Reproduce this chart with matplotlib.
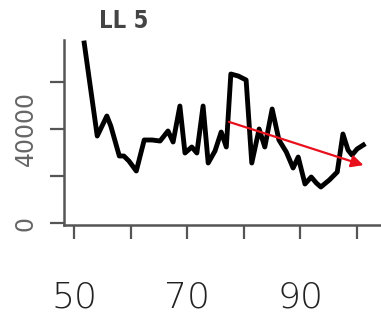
import numpy as np
import matplotlib
matplotlib.use("Agg")
import matplotlib.pyplot as plt

plt.rcParams['font.family'] = ['DejaVu Sans']

# series
years = [51.8, 54.1, 55.8, 56.5, 58.0, 58.8, 59.7, 61.0, 62.4, 63.8, 65.2, 66.6,
         67.5, 68.7, 69.6, 70.8, 71.7, 72.8, 73.7, 74.9, 76.0, 76.9, 77.7, 79.0,
         80.4, 81.4, 82.7, 83.7, 85.0, 86.2, 87.5, 88.7, 89.6, 90.8, 91.9, 92.8,
         93.6, 95.1, 96.5, 97.5, 98.4, 99.1, 100.0, 101.1]
values = [76590, 37020, 45530, 41270, 28510, 28510, 26380, 22130, 35320, 35320,
          34890, 39150, 34470, 49780, 29790, 32340, 29790, 49780, 25530, 30640,
          38720, 32340, 63400, 62550, 60850, 25530, 40000, 32340, 48510, 35320,
          30210, 23400, 28080, 16590, 19570, 17020, 15320, 18300, 21700, 37870,
          31060, 28930, 31490, 33190]

trend_x = [76.9, 101.6]
trend_y = [43400, 24250]

xticks = [50, 60, 70, 80, 90, 100]
xlabels = ['50', '', '70', '', '90', '']
yticks = [0, 20000, 40000, 60000]
ylabels = ['0', '', '40000', '']

W, H = 381, 321
fig = plt.figure(figsize=(W / 100, H / 100), dpi=100)
ax = fig.add_axes([64 / W, (H - 225) / H, (395 - 64) / W, (225 - 40) / H])

ax.plot(years, values, color='black', lw=3.5, solid_joinstyle='round')
ax.annotate('', xy=(trend_x[1], trend_y[1]), xytext=(trend_x[0], trend_y[0]),
            arrowprops=dict(arrowstyle='-|>', color='#e8101c', lw=1.6,
                            mutation_scale=18))

ax.set_xlim(48.23, 106.7)
ax.set_ylim(-850, 77870)

for s in ['top', 'right']:
    ax.spines[s].set_visible(False)
for s in ['left', 'bottom']:
    ax.spines[s].set_color('#555555')
    ax.spines[s].set_linewidth(1.8)

ax.set_xticks(xticks)
ax.set_xticklabels(xlabels, fontsize=26, color='#222222', fontweight='light')
ax.set_yticks(yticks)
ax.set_yticklabels(ylabels, fontsize=17, color='#666666', rotation=90,
                   va='center')
ax.tick_params(axis='both', length=10, width=1.6, color='#555555')
ax.tick_params(axis='x', pad=30)
ax.tick_params(axis='y', pad=9)

fig.text(99 / W, 1 - 21 / H, 'LL 5', fontsize=17, color='#444444',
         fontweight='bold', fontstretch='condensed', va='center', ha='left')

fig.savefig('out.png', dpi=100)
